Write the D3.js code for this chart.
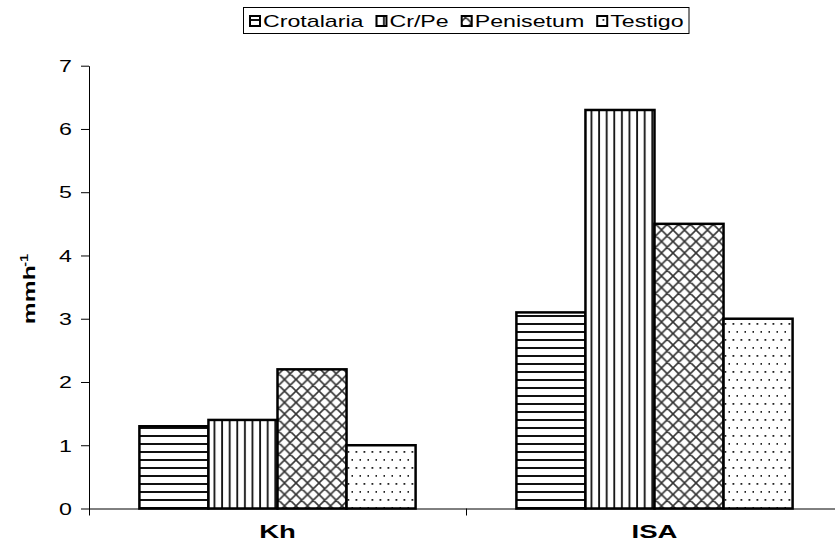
<!DOCTYPE html>
<html>
<head>
<meta charset="utf-8">
<script src="https://cdn.jsdelivr.net/npm/d3@7"></script>
<style>
  html, body { margin: 0; padding: 0; background: #fff; }
  svg { display: block; font-family: "Liberation Sans", Arial, sans-serif; }
</style>
</head>
<body>
<svg id="chart" width="835" height="550"></svg>
<script>
// ---- data ----
const categories = ["Kh", "ISA"];
const series = ["Crotalaria", "Cr/Pe", "Penisetum", "Testigo"];
const crotalaria = [1.3, 3.1];
const crPe = [1.4, 6.3];
const penisetum = [2.2, 4.5];
const testigo = [1.0, 3.0];
const yTicks = [0, 1, 2, 3, 4, 5, 6, 7];
const yTitle = "mmh";
const yTitleSup = "-1";

const seriesValues = [crotalaria, crPe, penisetum, testigo];
const patternIds = ["pHoriz", "pVert", "pCross", "pDots"];

const svg = d3.select("#chart");
const SX = 1.45; // wide-font emulation

// ---- patterns ----
const defs = svg.append("defs");
function pat(id, w, h) {
  const p = defs.append("pattern").attr("id", id)
    .attr("patternUnits", "userSpaceOnUse").attr("width", w).attr("height", h);
  p.append("rect").attr("width", w).attr("height", h).attr("fill", "#fff");
  return p;
}
{ const p = pat("pHoriz", 8, 8);
  p.append("rect").attr("x", 0).attr("y", 3).attr("width", 8).attr("height", 2).attr("fill", "#111"); }
{ const p = pat("pVert", 7.6, 8);
  p.append("rect").attr("x", 3).attr("y", 0).attr("width", 1.8).attr("height", 8).attr("fill", "#111"); }
{ const s = 11.5;
  const p = pat("pCross", s, s);
  p.append("path")
    .attr("d", `M-1,1 l2,-2 M0,${s} l${s},${-s} M${s-1},${s+1} l2,-2 M-1,${s-1} l2,2 M0,0 l${s},${s} M${s-1},-1 l2,2`)
    .attr("stroke", "#333").attr("stroke-width", 1.6).attr("fill", "none"); }
{ const p = pat("pDots", 8, 16);
  p.append("rect").attr("x", 2.5).attr("y", 3).attr("width", 1.8).attr("height", 1.8).attr("fill", "#222");
  p.append("rect").attr("x", 6.5).attr("y", 11).attr("width", 1.8).attr("height", 1.8).attr("fill", "#222"); }

// ---- scales ----
const plotLeft = 89, plotRight = 843, plotTop = 65.7, plotBottom = 508.5;
const x0 = d3.scaleBand().domain(categories).range([plotLeft, plotRight]).padding(0);
const x1 = d3.scaleBand().domain(series).range([0, x0.bandwidth()]).paddingInner(0).paddingOuter(0.73);
const y = d3.scaleLinear().domain([0, 7]).range([plotBottom, plotTop]);

// ---- bars ----
const groups = svg.append("g").selectAll("g").data(categories).join("g")
  .attr("transform", d => `translate(${x0(d)},0)`);
groups.selectAll("rect")
  .data((c, ci) => series.map((s, si) => ({ s, si, v: seriesValues[si][ci] })))
  .join("rect")
  .attr("x", d => x1(d.s))
  .attr("y", d => y(d.v))
  .attr("width", x1.bandwidth())
  .attr("height", d => y(0) - y(d.v))
  .attr("fill", d => `url(#${patternIds[d.si]})`)
  .attr("stroke", "#000").attr("stroke-width", 2.5);

// ---- y axis ----
const yAxis = svg.append("g").attr("transform", `translate(${plotLeft},0)`)
  .call(d3.axisLeft(y).tickValues(yTicks).tickFormat(d3.format("d")).tickSize(8).tickSizeOuter(0));
yAxis.select(".domain").attr("stroke", "#000");
yAxis.selectAll(".tick line").attr("stroke", "#000");
yAxis.selectAll(".tick text")
  .attr("x", 0).attr("dy", "0.36em")
  .attr("transform", `translate(-17,0) scale(${SX},1)`)
  .attr("font-size", 16).attr("fill", "#000")
  .attr("font-family", "'Liberation Sans', Arial, sans-serif");

// ---- x axis (ticks between categories) ----
const edges = d3.scaleLinear().domain([plotLeft, plotRight]).range([plotLeft, plotRight]);
const xAxis = svg.append("g").attr("transform", `translate(0,${plotBottom})`)
  .call(d3.axisBottom(edges).tickValues([plotLeft, x0("ISA"), plotRight]).tickFormat("").tickSize(7).tickSizeOuter(0));
xAxis.select(".domain").attr("stroke", "#000");
xAxis.selectAll(".tick line").attr("stroke", "#000");

const xLab = svg.append("g").attr("transform", `translate(0,${plotBottom})`)
  .call(d3.axisBottom(x0).tickSize(0));
xLab.select(".domain").remove();
xLab.selectAll(".tick text")
  .attr("y", 0).attr("dy", 0)
  .attr("transform", `translate(0,29) scale(${SX},1)`)
  .attr("font-size", 19).attr("font-weight", "bold").attr("fill", "#000")
  .attr("font-family", "'Liberation Sans', Arial, sans-serif");

// ---- y title ----
const yt = svg.append("text")
  .attr("transform", `translate(35,289) rotate(-90) scale(${SX},1)`)
  .attr("text-anchor", "middle")
  .attr("font-size", 17).attr("font-weight", "bold").attr("fill", "#000");
yt.append("tspan").text(yTitle);
yt.append("tspan").attr("dy", -7).attr("dx", -1).attr("font-size", 10).text(yTitleSup);

// ---- legend ----
const leg = svg.append("g");
leg.append("rect").attr("x", 243.5).attr("y", 7.5).attr("width", 445.5).attr("height", 26)
  .attr("fill", "#fff").attr("stroke", "#000").attr("stroke-width", 1);
let lx = 250;
series.forEach((s, i) => {
  leg.append("rect").attr("x", lx).attr("y", 16).attr("width", 10).attr("height", 10)
    .attr("fill", `url(#${patternIds[i]})`).attr("stroke", "#000").attr("stroke-width", 2);
  lx += 13;
  const t = leg.append("text")
    .attr("transform", `translate(${lx},26.5) scale(${SX},1)`)
    .attr("font-size", 16).attr("fill", "#000").text(s);
  const w = t.node().getComputedTextLength() * SX;
  lx += w + 13;
});
</script>
</body>
</html>
